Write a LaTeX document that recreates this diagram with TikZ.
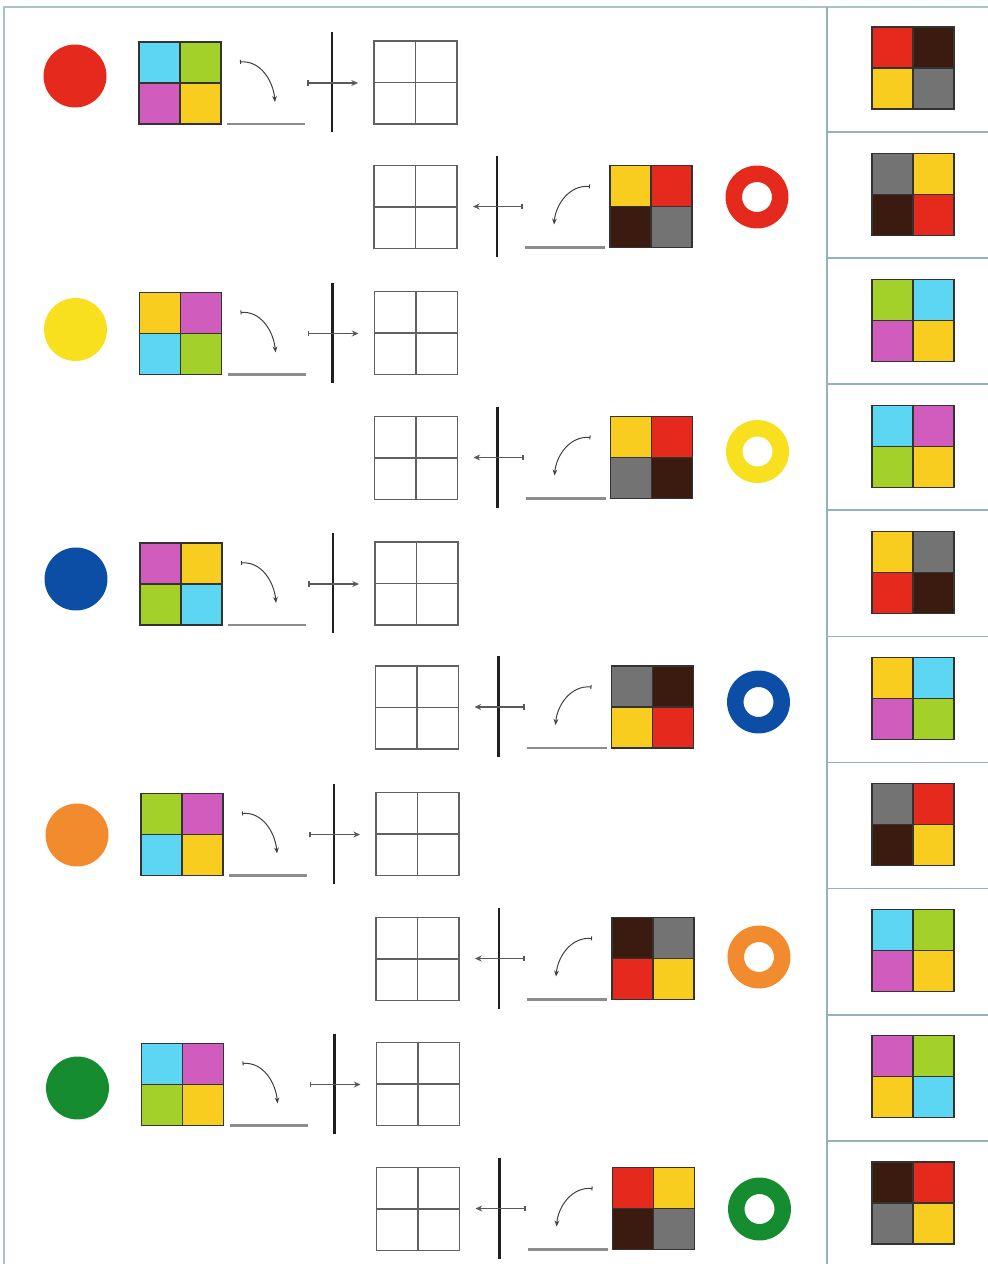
\documentclass[tikz,border=0pt]{standalone}
\usetikzlibrary{arrows.meta}
\definecolor{cRed}{HTML}{E5291C}
\definecolor{cBrown}{HTML}{3B1B10}
\definecolor{cYel}{HTML}{F8CD1F}
\definecolor{cLemon}{HTML}{F8E01E}
\definecolor{cGray}{HTML}{737373}
\definecolor{cCyan}{HTML}{5CD6F2}
\definecolor{cLime}{HTML}{A3D12A}
\definecolor{cMag}{HTML}{D05DBE}
\definecolor{cBlue}{HTML}{0C4EA6}
\definecolor{cOrange}{HTML}{F28A2E}
\definecolor{cGreen}{HTML}{148C2F}
\definecolor{cFrame}{HTML}{A7C4D0}
\definecolor{cSep}{HTML}{93B2C0}
\tikzset{
 frameline/.style={draw=cFrame, line width=1.5pt},
 sepline/.style={draw=cSep, line width=1.3pt},
 cellborder/.style={draw=black!80, line width=0.9pt},
 emptygrid/.style={draw=black!62, line width=1pt},
 ulinestyle/.style={draw=black!45, line width=1.8pt},
 vbarstyle/.style={draw=black!88, line width=2.2pt},
 harrowstyle/.style={draw=black!65, line width=1.3pt, arrows={Bar[width=4pt]-Stealth[length=5pt,width=4.5pt]}},
 curvestyle/.style={draw=black!75, line width=0.75pt, arrows={Bar[width=3pt]-Stealth[length=4.5pt,width=3.5pt]}},
}
\newcommand\QuadSq[6]{%
 \fill[#3] (#1,#2) rectangle ++(41,41);
 \fill[#4] ({#1+41},#2) rectangle ++(41,41);
 \fill[#5] (#1,{#2+41}) rectangle ++(41,41);
 \fill[#6] ({#1+41},{#2+41}) rectangle ++(41,41);
 \draw[cellborder] (#1,#2) rectangle ++(82,82);
 \draw[cellborder] ({#1+41},#2) -- ++(0,82);
 \draw[cellborder] (#1,{#2+41}) -- ++(82,0);
}
\newcommand\EmptyGrid[2]{%
 \draw[emptygrid] (#1,#2) rectangle ++(83,83);
 \draw[emptygrid] ({#1+41.5},#2) -- ++(0,83);
 \draw[emptygrid] (#1,{#2+41.5}) -- ++(83,0);
}
\newcommand\RowTop[8]{%
 \fill[#3] ({75+#8},#2) circle (23.6pt);
 \QuadSq{139+#8}{#1-41}{#4}{#5}{#6}{#7}
 \draw[curvestyle] ({240+#8},{#1-21}) to[out=5,in=95] ({275+#8},{#1+19});
 \draw[ulinestyle] ({227+#8},{#1+41}) -- ({305+#8},{#1+41});
 \draw[vbarstyle] ({332+#8},{#1-51}) -- ({332+#8},{#1+49});
 \draw[harrowstyle] ({307+#8},#1) -- ({358+#8},#1);
 \EmptyGrid{374+#8}{#1-42}
}
\newcommand\RowBot[8]{%
 \EmptyGrid{374+#8}{#1-41}
 \draw[vbarstyle] ({497+#8},{#1-51}) -- ({497+#8},{#1+50});
 \draw[harrowstyle] ({523+#8},#1) -- ({473+#8},#1);
 \draw[curvestyle] ({590+#8},{#1-20}) to[out=175,in=85] ({554+#8},{#1+18});
 \draw[ulinestyle] ({525+#8},{#1+41}) -- ({605+#8},{#1+41});
 \QuadSq{610+#8}{#1-41}{#4}{#5}{#6}{#7}
 \fill[#3,even odd rule] ({757+#8},#2) circle (23.6pt) circle (11.25pt);
}
\begin{document}
\begin{tikzpicture}[x=0.75pt,y=-0.75pt]
\fill[white] (0,0) rectangle (988,1264);
\useasboundingbox (0,0) rectangle (988,1264);
% frame
\draw[frameline] (4,1264) -- (4,7) -- (988,7);
\draw[sepline] (827,7) -- (827,1264);
\foreach \j in {0,...,8} {
  \draw[sepline] (827,{132+126.1*\j}) -- (988,{132+126.1*\j});
}
% exercise rows
\RowTop{83}{76}{cRed}{cCyan}{cLime}{cMag}{cYel}{0}
\RowBot{206.5}{197}{cRed}{cYel}{cRed}{cBrown}{cGray}{0}
\RowTop{333.5}{329.5}{cLemon}{cYel}{cMag}{cCyan}{cLime}{0.5}
\RowBot{457.5}{451.5}{cLemon}{cYel}{cRed}{cGray}{cBrown}{0.5}
\RowTop{584}{579}{cBlue}{cMag}{cYel}{cLime}{cCyan}{1}
\RowBot{707}{702}{cBlue}{cGray}{cBrown}{cYel}{cRed}{1.5}
\RowTop{834.5}{835}{cOrange}{cLime}{cMag}{cCyan}{cYel}{2}
\RowBot{958.5}{957}{cOrange}{cBrown}{cGray}{cRed}{cYel}{2}
\RowTop{1084.5}{1088}{cGreen}{cCyan}{cMag}{cLime}{cYel}{2.5}
\RowBot{1208.5}{1209}{cGreen}{cRed}{cYel}{cBrown}{cGray}{2.5}
% answer column
\QuadSq{872}{27}{cRed}{cBrown}{cYel}{cGray}
\QuadSq{872}{153.1}{cGray}{cYel}{cBrown}{cRed}
\QuadSq{872}{279.2}{cLime}{cCyan}{cMag}{cYel}
\QuadSq{872}{405.3}{cCyan}{cMag}{cLime}{cYel}
\QuadSq{872}{531.4}{cYel}{cGray}{cRed}{cBrown}
\QuadSq{872}{657.5}{cYel}{cCyan}{cMag}{cLime}
\QuadSq{872}{783.6}{cGray}{cRed}{cBrown}{cYel}
\QuadSq{872}{909.7}{cCyan}{cLime}{cMag}{cYel}
\QuadSq{872}{1035.8}{cMag}{cLime}{cYel}{cCyan}
\QuadSq{872}{1161.9}{cBrown}{cRed}{cGray}{cYel}
\end{tikzpicture}
\end{document}
